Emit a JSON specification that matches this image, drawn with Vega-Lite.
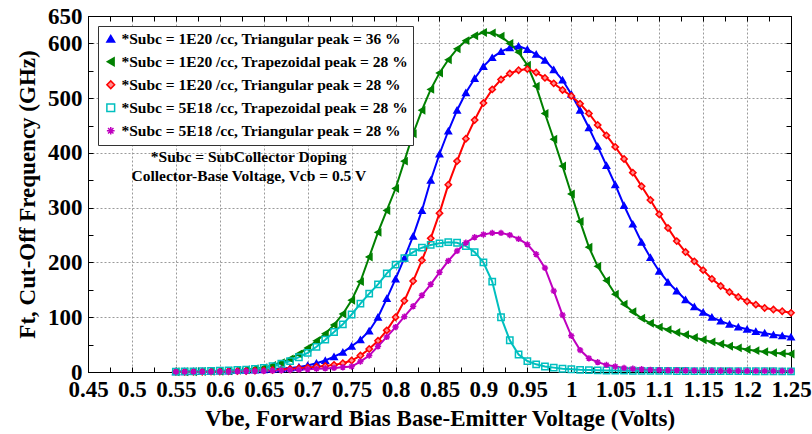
{
  "$schema": "https://vega.github.io/schema/vega-lite/v6.json",
  "width": 703,
  "height": 356,
  "autosize": {"type": "none"},
  "padding": {"left": 88, "top": 16, "right": 21, "bottom": 62},
  "background": "white",
  "datasets": {
    "main": [
      {"v":0.55,"s1":0.5,"s2":0.4,"s3":0.3,"s4":0.8,"s5":0.3},
      {"v":0.56,"s1":0.6,"s2":0.5,"s3":0.4,"s4":1.0,"s5":0.3},
      {"v":0.57,"s1":0.8,"s2":0.6,"s3":0.5,"s4":1.3,"s5":0.4},
      {"v":0.58,"s1":1.0,"s2":0.8,"s3":0.6,"s4":1.6,"s5":0.5},
      {"v":0.59,"s1":1.3,"s2":1.1,"s3":0.8,"s4":2.0,"s5":0.6},
      {"v":0.60,"s1":1.6,"s2":1.5,"s3":1.0,"s4":2.5,"s5":0.7},
      {"v":0.61,"s1":2.0,"s2":2.0,"s3":1.3,"s4":3.0,"s5":0.9},
      {"v":0.62,"s1":2.5,"s2":3.0,"s3":1.6,"s4":3.6,"s5":1.1},
      {"v":0.63,"s1":3.0,"s2":4.0,"s3":2.0,"s4":4.3,"s5":1.3},
      {"v":0.64,"s1":3.6,"s2":6.0,"s3":2.5,"s4":5.5,"s5":1.6},
      {"v":0.65,"s1":4.3,"s2":8.0,"s3":3.0,"s4":7.5,"s5":2.0},
      {"v":0.66,"s1":5.0,"s2":12,"s3":3.7,"s4":10.5,"s5":2.4},
      {"v":0.67,"s1":6.0,"s2":17,"s3":4.5,"s4":15,"s5":2.9},
      {"v":0.68,"s1":7.3,"s2":24,"s3":5.5,"s4":20,"s5":3.5},
      {"v":0.69,"s1":9,"s2":33,"s3":6.7,"s4":27,"s5":4.2},
      {"v":0.70,"s1":12,"s2":44,"s3":8,"s4":35,"s5":5},
      {"v":0.71,"s1":16,"s2":57,"s3":9.5,"s4":46,"s5":5.8},
      {"v":0.72,"s1":21,"s2":70,"s3":11,"s4":59,"s5":6.6},
      {"v":0.73,"s1":28,"s2":86,"s3":13,"s4":73,"s5":7.5},
      {"v":0.74,"s1":36,"s2":106,"s3":16,"s4":87,"s5":8.5},
      {"v":0.75,"s1":47,"s2":131,"s3":21,"s4":105,"s5":10},
      {"v":0.76,"s1":59,"s2":165,"s3":30,"s4":125,"s5":19},
      {"v":0.77,"s1":75,"s2":210,"s3":42,"s4":143,"s5":30},
      {"v":0.78,"s1":100,"s2":255,"s3":57,"s4":160,"s5":47},
      {"v":0.79,"s1":134,"s2":295,"s3":76,"s4":180,"s5":64},
      {"v":0.80,"s1":170,"s2":335,"s3":100,"s4":196,"s5":82},
      {"v":0.81,"s1":208,"s2":385,"s3":130,"s4":208,"s5":101},
      {"v":0.82,"s1":248,"s2":435,"s3":166,"s4":219,"s5":120},
      {"v":0.83,"s1":295,"s2":478,"s3":204,"s4":227,"s5":140},
      {"v":0.84,"s1":350,"s2":516,"s3":244,"s4":232,"s5":160},
      {"v":0.85,"s1":398,"s2":546,"s3":290,"s4":235,"s5":182},
      {"v":0.86,"s1":440,"s2":570,"s3":342,"s4":237,"s5":203},
      {"v":0.87,"s1":478,"s2":590,"s3":385,"s4":236,"s5":221},
      {"v":0.88,"s1":510,"s2":605,"s3":426,"s4":230,"s5":236},
      {"v":0.89,"s1":536,"s2":614,"s3":460,"s4":219,"s5":246},
      {"v":0.90,"s1":558,"s2":620,"s3":491,"s4":200,"s5":251},
      {"v":0.91,"s1":574,"s2":619,"s3":516,"s4":165,"s5":254},
      {"v":0.92,"s1":585,"s2":613,"s3":534,"s4":100,"s5":254},
      {"v":0.93,"s1":592,"s2":600,"s3":545,"s4":58,"s5":250},
      {"v":0.94,"s1":595,"s2":584,"s3":551,"s4":32,"s5":243},
      {"v":0.95,"s1":589,"s2":560,"s3":553,"s4":20,"s5":233},
      {"v":0.96,"s1":580,"s2":522,"s3":547,"s4":14,"s5":215},
      {"v":0.97,"s1":569,"s2":472,"s3":537,"s4":10,"s5":190},
      {"v":0.98,"s1":552,"s2":425,"s3":527,"s4":8,"s5":148},
      {"v":0.99,"s1":533,"s2":376,"s3":515,"s4":6,"s5":104},
      {"v":1.00,"s1":507,"s2":325,"s3":504,"s4":5,"s5":66},
      {"v":1.01,"s1":478,"s2":275,"s3":490,"s4":4,"s5":40},
      {"v":1.02,"s1":446,"s2":228,"s3":472,"s4":3.5,"s5":25},
      {"v":1.03,"s1":412,"s2":193,"s3":451,"s4":3,"s5":18},
      {"v":1.04,"s1":377,"s2":167,"s3":432,"s4":2.8,"s5":13},
      {"v":1.05,"s1":342,"s2":142,"s3":411,"s4":2.6,"s5":10},
      {"v":1.06,"s1":304,"s2":124,"s3":389,"s4":2.4,"s5":7.5},
      {"v":1.07,"s1":270,"s2":110,"s3":364,"s4":2.3,"s5":6},
      {"v":1.08,"s1":237,"s2":98,"s3":339,"s4":2.2,"s5":5},
      {"v":1.09,"s1":209,"s2":89,"s3":314,"s4":2.1,"s5":4},
      {"v":1.10,"s1":184,"s2":82,"s3":288,"s4":2.0,"s5":3.5},
      {"v":1.11,"s1":164,"s2":77,"s3":263,"s4":1.9,"s5":3.2},
      {"v":1.12,"s1":148,"s2":72,"s3":239,"s4":1.8,"s5":3.0},
      {"v":1.13,"s1":132,"s2":68,"s3":219,"s4":1.8,"s5":2.8},
      {"v":1.14,"s1":119,"s2":63,"s3":202,"s4":1.7,"s5":2.6},
      {"v":1.15,"s1":109,"s2":59,"s3":186,"s4":1.7,"s5":2.5},
      {"v":1.16,"s1":100,"s2":55,"s3":170,"s4":1.6,"s5":2.4},
      {"v":1.17,"s1":93,"s2":51,"s3":157,"s4":1.6,"s5":2.3},
      {"v":1.18,"s1":87,"s2":47,"s3":146,"s4":1.5,"s5":2.2},
      {"v":1.19,"s1":82,"s2":44,"s3":137,"s4":1.5,"s5":2.1},
      {"v":1.20,"s1":78,"s2":41,"s3":129,"s4":1.5,"s5":2.0},
      {"v":1.21,"s1":74,"s2":39,"s3":123,"s4":1.4,"s5":1.9},
      {"v":1.22,"s1":71,"s2":37,"s3":117,"s4":1.4,"s5":1.9},
      {"v":1.23,"s1":68,"s2":35,"s3":114,"s4":1.4,"s5":1.8},
      {"v":1.24,"s1":66,"s2":34,"s3":111,"s4":1.3,"s5":1.8},
      {"v":1.25,"s1":64,"s2":33,"s3":108,"s4":1.3,"s5":1.7}
    ],
    "notes": [
      {"v":0.633,"f":392,"t":"*Subc = SubCollector Doping"},
      {"v":0.633,"f":358,"t":"Collector-Base Voltage, Vcb = 0.5 V"}
    ]
  },
  "resolve": {"axis": {"x": "independent", "y": "independent"}},
  "layer": [
    {
      "data": {"name": "main"},
      "transform": [{"fold": ["s1","s2","s3","s4","s5"], "as": ["k","f"]}],
      "mark": {"type": "line", "strokeWidth": 2},
      "encoding": {
        "x": {
          "field": "v", "type": "quantitative",
          "scale": {"domain": [0.45, 1.25], "nice": false, "zero": false},
          "axis": {
            "orient": "bottom",
            "values": [0.45,0.475,0.5,0.525,0.55,0.575,0.6,0.625,0.65,0.675,0.7,0.725,0.75,0.775,0.8,0.825,0.85,0.875,0.9,0.925,0.95,0.975,1,1.025,1.05,1.075,1.1,1.125,1.15,1.175,1.2,1.225,1.25],
            "labelExpr": "round(datum.value*40)%2==0 ? format(datum.value,'~g') : ''",
            "grid": true,
            "gridOpacity": {"condition": {"test": "round(datum.value*40)%2==0", "value": 1}, "value": 0},
            "gridDash": [2, 2], "gridColor": "#9a9a9a", "gridWidth": 1,
            "tickSize": -5, "tickColor": "black", "domainColor": "black",
            "labelFont": "Liberation Serif", "labelFontWeight": "bold", "labelFontSize": 23, "labelColor": "black",
            "labelFlush": false, "labelOverlap": false, "labelPadding": 11,
            "title": "Vbe, Forward Bias Base-Emitter Voltage (Volts)",
            "titleFont": "Liberation Serif", "titleFontWeight": "bold", "titleFontSize": 23, "titleColor": "black", "titlePadding": 6
          }
        },
        "y": {
          "field": "f", "type": "quantitative",
          "scale": {"domain": [0, 650], "nice": false},
          "axis": {
            "orient": "left",
            "values": [0,50,100,150,200,250,300,350,400,450,500,550,600,650],
            "labelExpr": "(datum.value%100==0 || datum.value==650) ? datum.label : ''",
            "grid": true,
            "gridOpacity": {"condition": {"test": "datum.value%100==0 && datum.value<650", "value": 1}, "value": 0},
            "gridDash": [2, 2], "gridColor": "#9a9a9a", "gridWidth": 1,
            "tickSize": -5, "tickColor": "black", "domainColor": "black",
            "labelFont": "Liberation Serif", "labelFontWeight": "bold", "labelFontSize": 23, "labelColor": "black",
            "labelOverlap": false, "labelPadding": 11,
            "title": "Ft, Cut-Off Frequency (GHz)",
            "titleFont": "Liberation Serif", "titleFontWeight": "bold", "titleFontSize": 23, "titleColor": "black", "titlePadding": 8
          }
        },
        "stroke": {
          "field": "k", "type": "nominal",
          "scale": {"domain": ["s1","s2","s3","s4","s5"], "range": ["#0000ff","#008000","#ff0000","#00bfbf","#bf00bf"]},
          "legend": {"labelExpr": "datum.label=='s1' ? '*Subc = 1E20 /cc, Triangular peak = 36 %' : datum.label=='s2' ? '*Subc = 1E20 /cc, Trapezoidal peak = 28 %' : datum.label=='s3' ? '*Subc = 1E20 /cc, Triangular peak = 28 %' : datum.label=='s4' ? '*Subc = 5E18 /cc, Trapezoidal peak = 28 %' : '*Subc = 5E18 /cc, Triangular peak = 28 %'"}
        },
        "detail": {"field": "k"}
      }
    },
    {
      "data": {"name": "main"},
      "transform": [{"fold": ["s1","s2","s3","s4","s5"], "as": ["k","f"]}],
      "mark": {"type": "point", "filled": false, "size": 40, "strokeWidth": 1.5, "opacity": 1},
      "encoding": {
        "x": {"field": "v", "type": "quantitative", "axis": null},
        "y": {"field": "f", "type": "quantitative", "axis": null},
        "color": {
          "field": "k", "type": "nominal",
          "scale": {"domain": ["s1","s2","s3","s4","s5"], "range": ["#0000ff","#008000","#ff0000","#00bfbf","#bf00bf"]},
          "legend": {"labelExpr": "datum.label=='s1' ? '*Subc = 1E20 /cc, Triangular peak = 36 %' : datum.label=='s2' ? '*Subc = 1E20 /cc, Trapezoidal peak = 28 %' : datum.label=='s3' ? '*Subc = 1E20 /cc, Triangular peak = 28 %' : datum.label=='s4' ? '*Subc = 5E18 /cc, Trapezoidal peak = 28 %' : '*Subc = 5E18 /cc, Triangular peak = 28 %'"}
        },
        "fill": {
          "field": "k", "type": "nominal",
          "scale": {"domain": ["s1","s2","s3","s4","s5"], "range": ["#0000ff","#008000","#ff9090","transparent","transparent"]},
          "legend": {"labelExpr": "datum.label=='s1' ? '*Subc = 1E20 /cc, Triangular peak = 36 %' : datum.label=='s2' ? '*Subc = 1E20 /cc, Trapezoidal peak = 28 %' : datum.label=='s3' ? '*Subc = 1E20 /cc, Triangular peak = 28 %' : datum.label=='s4' ? '*Subc = 5E18 /cc, Trapezoidal peak = 28 %' : '*Subc = 5E18 /cc, Triangular peak = 28 %'"}
        },
        "shape": {
          "field": "k", "type": "nominal",
          "scale": {"domain": ["s1","s2","s3","s4","s5"], "range": ["triangle-up","triangle-left","diamond","square","M-1,0L1,0M0,-1L0,1M-0.7,-0.7L0.7,0.7M-0.7,0.7L0.7,-0.7"]},
          "legend": {"labelExpr": "datum.label=='s1' ? '*Subc = 1E20 /cc, Triangular peak = 36 %' : datum.label=='s2' ? '*Subc = 1E20 /cc, Trapezoidal peak = 28 %' : datum.label=='s3' ? '*Subc = 1E20 /cc, Triangular peak = 28 %' : datum.label=='s4' ? '*Subc = 5E18 /cc, Trapezoidal peak = 28 %' : '*Subc = 5E18 /cc, Triangular peak = 28 %'"}
        }
      }
    },
    {
      "data": {"name": "notes"},
      "mark": {"type": "text", "font": "Liberation Serif", "fontWeight": "bold", "fontSize": 15.5, "color": "black", "align": "center", "baseline": "middle"},
      "encoding": {
        "x": {"field": "v", "type": "quantitative",
          "axis": {"orient": "top", "values": [0.45,0.475,0.5,0.525,0.55,0.575,0.6,0.625,0.65,0.675,0.7,0.725,0.75,0.775,0.8,0.825,0.85,0.875,0.9,0.925,0.95,0.975,1,1.025,1.05,1.075,1.1,1.125,1.15,1.175,1.2,1.225,1.25], "labels": false, "grid": false, "tickSize": -5, "tickColor": "black", "domainColor": "black", "title": null}},
        "y": {"field": "f", "type": "quantitative",
          "axis": {"orient": "right", "values": [0,50,100,150,200,250,300,350,400,450,500,550,600,650], "labels": false, "grid": false, "tickSize": -5, "tickColor": "black", "domainColor": "black", "title": null}},
        "text": {"field": "t"}
      }
    }
  ],
  "config": {
    "view": {"stroke": "black", "strokeWidth": 1},
    "legend": {
      "title": null, "orient": "top-left", "offset": 10,
      "fillColor": "white", "strokeColor": "#333", "padding": 5,
      "labelFont": "Liberation Serif", "labelFontWeight": "bold", "labelFontSize": 15.5, "labelColor": "black",
      "labelLimit": 400, "rowPadding": 6, "symbolSize": 60, "symbolStrokeWidth": 1.5, "labelOffset": 3
    }
  }
}
